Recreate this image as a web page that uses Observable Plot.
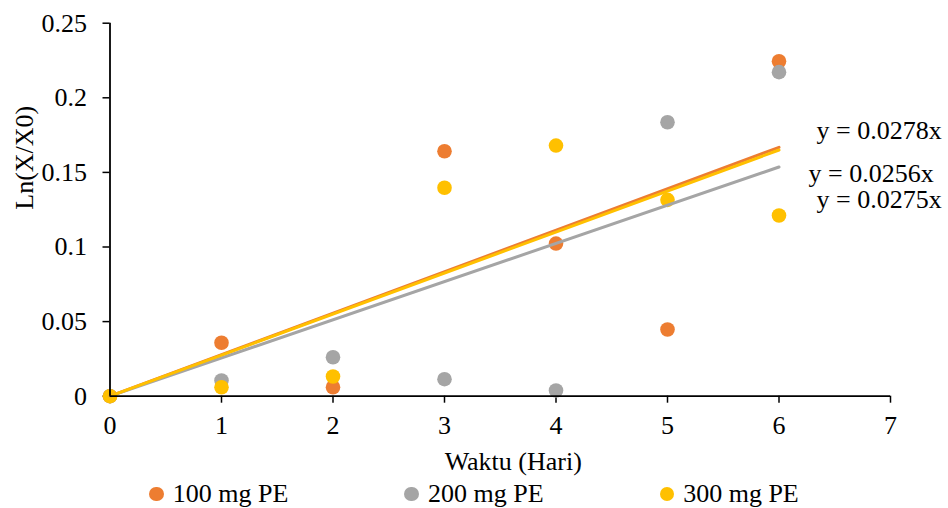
<!DOCTYPE html>
<html><head><meta charset="utf-8">
<script src="https://cdn.jsdelivr.net/npm/d3@7"></script>
<script src="https://cdn.jsdelivr.net/npm/@observablehq/plot@0.6"></script>
<style>
html,body{margin:0;background:#fff;}
body, body *{font-family:"Liberation Serif","Times New Roman",Times,serif !important;}
#legend{display:flex;justify-content:center;align-items:center;height:28px;gap:116px;font-size:26px;color:#000;width:948px;}
.item{display:flex;align-items:center;white-space:nowrap;}
.sw{width:14.6px;height:14.6px;border-radius:50%;margin-right:9px;}
</style></head><body>
<div id="chart"></div><div id="legend"></div>
<script>
const days = [0, 1, 2, 3, 4, 5, 6];
const seriesNames = ["100 mg PE", "200 mg PE", "300 mg PE"];
const pe100 = [0, 0.0358, 0.0060, 0.1642, 0.1023, 0.0447, 0.2245];
const pe200 = [0, 0.0105, 0.0261, 0.0114, 0.0038, 0.1836, 0.2172];
const pe300 = [0, 0.0060, 0.0132, 0.1397, 0.1680, 0.1316, 0.1211];
const slopes = [0.0278, 0.0256, 0.0275];
const equations = ["y = 0.0278x", "y = 0.0256x", "y = 0.0275x"];
const colors = ["#ED7D31", "#A5A5A5", "#FFC000"];
const xTicks = [0, 1, 2, 3, 4, 5, 6, 7];
const yTicks = [0, 0.05, 0.1, 0.15, 0.2, 0.25];
const yTickLabels = ["0", "0.05", "0.1", "0.15", "0.2", "0.25"];
const xTitle = "Waktu (Hari)";
const yTitle = "Ln(X/X0)";

const font = "Liberation Serif, Times New Roman, serif";
const allValues = [pe100, pe200, pe300];
const points = [];
allValues.forEach((vals, s) => vals.forEach((v, i) => points.push({series: seriesNames[s], x: days[i], y: v})));
const trend = [];
slopes.forEach((m, s) => {
  trend.push({series: seriesNames[s], x: days[0], y: m * days[0]});
  trend.push({series: seriesNames[s], x: days[days.length - 1], y: m * days[days.length - 1]});
});
const eqData = slopes.map((m, s) => ({series: seriesNames[s], x: days[days.length - 1], y: m * days[days.length - 1], text: equations[s]}));
const eqOffsets = [{dx: 37.5, dy: -17}, {dx: 29.5, dy: 6.5}, {dx: 37.5, dy: 50}];

const marks = [];
seriesNames.forEach((name, s) => {
  marks.push(Plot.dot(points.filter(d => d.series === name), {x: "x", y: "y", r: 7.3, fill: colors[s], stroke: "none"}));
});
seriesNames.forEach((name, s) => {
  marks.push(Plot.line(trend.filter(d => d.series === name), {x: "x", y: "y", stroke: colors[s], strokeWidth: 3}));
});
seriesNames.forEach((name, s) => {
  marks.push(Plot.text(eqData.filter(d => d.series === name), {x: "x", y: "y", text: "text", textAnchor: "start", lineAnchor: "middle", dx: eqOffsets[s].dx, dy: eqOffsets[s].dy, fill: "#000", fontSize: 26, fontFamily: font}));
});

const chart = Plot.plot({
  width: 948,
  height: 480,
  marginLeft: 109.5,
  marginRight: 58,
  marginTop: 22.7,
  marginBottom: 84.3,
  style: {fontFamily: font, fontSize: "26px", color: "#000", background: "#fff", overflow: "visible"},
  x: {domain: [0, 7]},
  y: {domain: [0, 0.25]},
  marks: [
    Plot.axisX({ticks: xTicks, tickSize: 7, tickPadding: 12, strokeWidth: 1.5, label: null, fontFamily: font, fontSize: 26, tickFormat: d => String(d)}),
    Plot.axisY({ticks: yTicks, tickSize: 7, tickPadding: 16, strokeWidth: 1.5, label: null, fontFamily: font, fontSize: 26, tickFormat: d => yTickLabels[yTicks.indexOf(d)]}),
    ...marks,
    Plot.ruleY([0], {stroke: "#000", strokeWidth: 1.8}),
    Plot.ruleX([0], {stroke: "#000", strokeWidth: 1.8}),
    Plot.text([xTitle], {text: d => d, frameAnchor: "bottom", lineAnchor: "middle", dy: 65, dx: 13, fill: "#000", fontSize: 26, fontFamily: font}),
    Plot.text([yTitle], {text: d => d, frameAnchor: "left", lineAnchor: "middle", rotate: -90, dx: -85.5, fill: "#000", fontSize: 26, fontFamily: font})
  ]
});
document.getElementById("chart").appendChild(chart);

const legend = document.getElementById("legend");
seriesNames.forEach((name, s) => {
  const item = document.createElement("div");
  item.className = "item";
  const sw = document.createElement("span");
  sw.className = "sw";
  sw.style.background = colors[s];
  const lab = document.createElement("span");
  lab.textContent = name;
  item.appendChild(sw); item.appendChild(lab);
  legend.appendChild(item);
});
</script>
</body></html>
